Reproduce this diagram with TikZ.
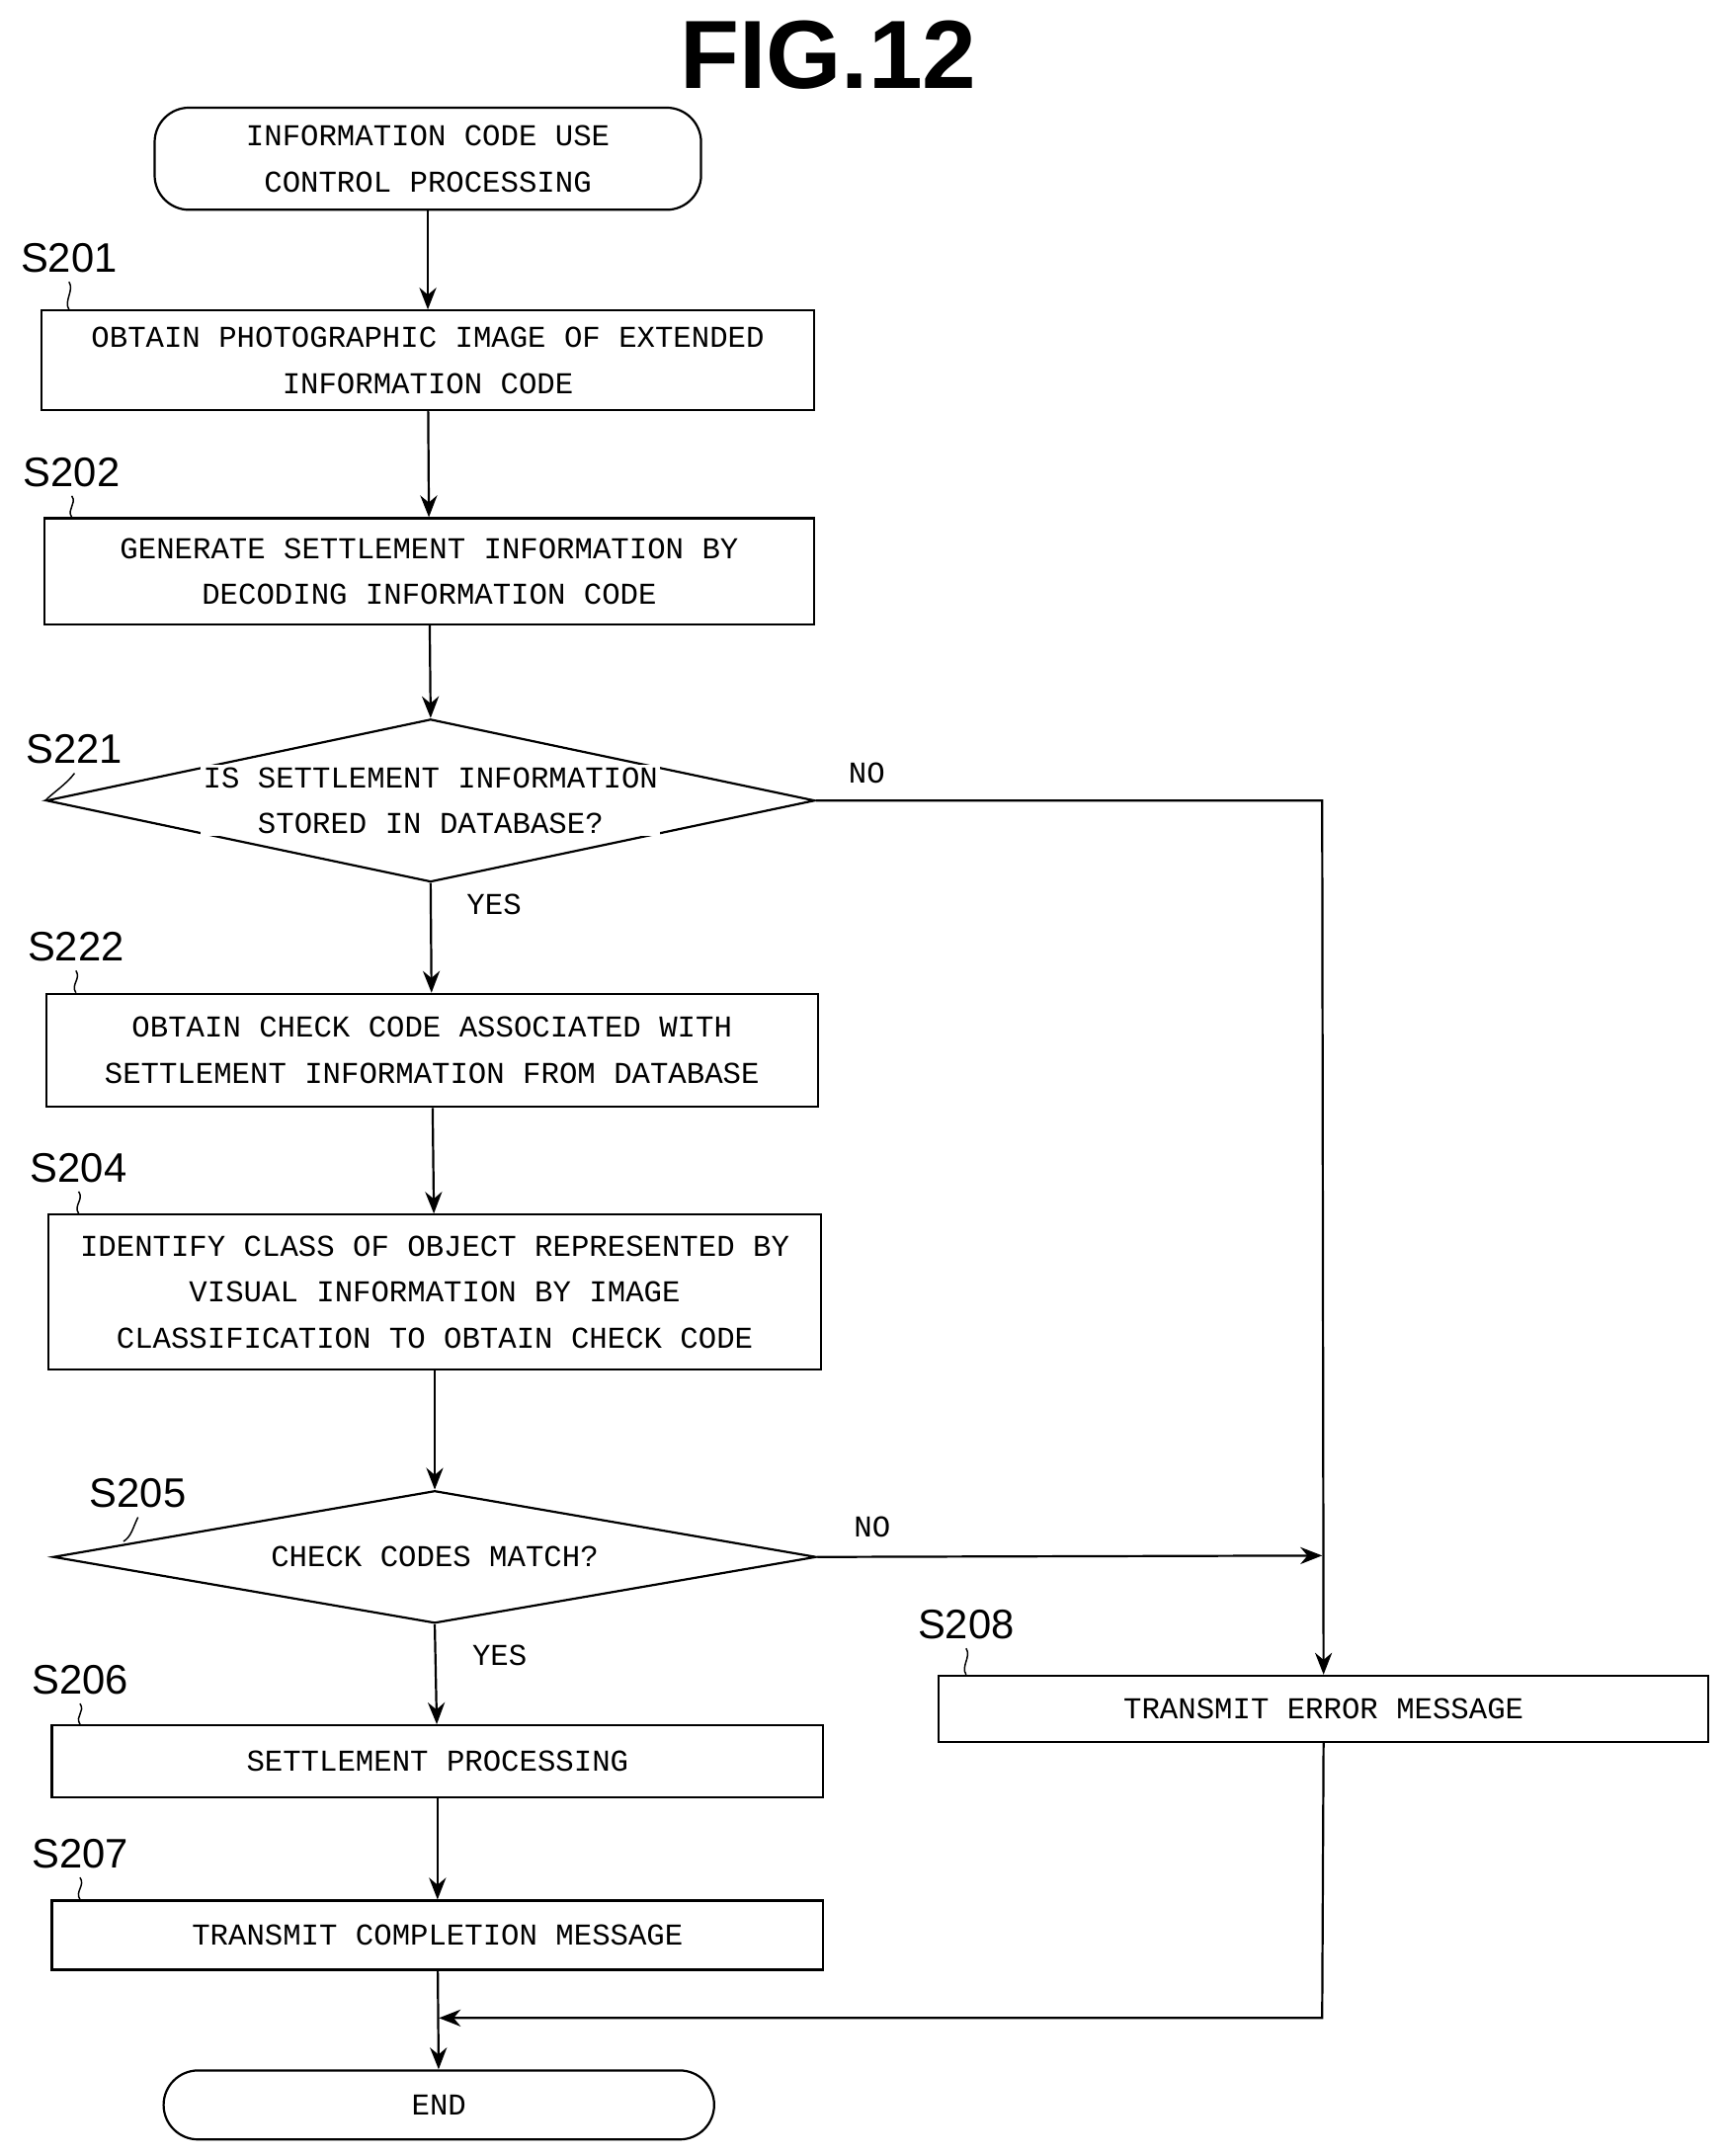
\documentclass[tikz,border=0pt]{standalone}
\usepackage{fontspec}
\setmainfont{Liberation Mono}
\setsansfont{Liberation Sans}
\usetikzlibrary{shapes.geometric,arrows.meta}
\begin{document}
\begin{tikzpicture}[x=0.02cm,y=-0.02cm,>={Stealth[length=9pt,width=7pt]},line width=0.9pt]
    \tikzstyle{proc}=[rectangle,draw,inner sep=0pt,align=center,font=\fontsize{12.5}{19}\selectfont]
    \tikzstyle{term}=[rectangle,rounded corners=0.5cm,draw,inner sep=0pt,align=center,font=\fontsize{12.5}{19}\selectfont]
    \tikzstyle{decision}=[diamond,draw,inner sep=0pt]
    \tikzstyle{question}=[fill=white,inner sep=1pt,align=center,font=\fontsize{12.5}{19}\selectfont]
    \tikzstyle{tag}=[font=\sffamily\fontsize{17}{20}\selectfont]
    \tikzstyle{annot}=[font=\fontsize{12.5}{19}\selectfont]
    \useasboundingbox (0,0) rectangle (1250,1562);

    %%% DRAW THE NODES
    \node[font=\sffamily\bfseries\fontsize{40}{44}\selectfont] (title) at (600,40) {FIG.12};
    \node[term,minimum width=7.92cm,minimum height=1.48cm] (start) at (310,115) {INFORMATION CODE USE\\CONTROL PROCESSING};
    \node[proc,minimum width=11.2cm,minimum height=1.44cm] (s201) at (310,261) {OBTAIN PHOTOGRAPHIC IMAGE OF EXTENDED\\INFORMATION CODE};
    \node[proc,minimum width=11.16cm,minimum height=1.54cm] (s202) at (311,414) {GENERATE SETTLEMENT INFORMATION BY\\DECODING INFORMATION CODE};
    \node[decision,aspect=4.72,minimum width=11.14cm,minimum height=2.36cm] (s221) at (312,580) {};
    \node[question] (q221) at (s221) {IS SETTLEMENT INFORMATION\\STORED IN DATABASE?};
    \node[proc,minimum width=11.18cm,minimum height=1.64cm] (s222) at (313,761) {OBTAIN CHECK CODE ASSOCIATED WITH\\SETTLEMENT INFORMATION FROM DATABASE};
    \node[proc,minimum width=11.2cm,minimum height=2.24cm] (s204) at (315,936) {IDENTIFY CLASS OF OBJECT REPRESENTED BY\\VISUAL INFORMATION BY IMAGE\\CLASSIFICATION TO OBTAIN CHECK CODE};
    \node[decision,aspect=5.76,minimum width=11.06cm,minimum height=1.92cm] (s205) at (315,1128) {};
    \node[question] (q205) at (s205) {CHECK CODES MATCH?};
    \node[proc,minimum width=11.18cm,minimum height=1.04cm] (s206) at (317,1276) {SETTLEMENT PROCESSING};
    \node[proc,minimum width=11.18cm,minimum height=1.0cm] (s207) at (317,1402) {TRANSMIT COMPLETION MESSAGE};
    \node[proc,minimum width=11.16cm,minimum height=0.96cm] (s208) at (959,1238) {TRANSMIT ERROR MESSAGE};
    \node[term,minimum width=7.98cm,minimum height=1.0cm] (end) at (318,1525) {END};

    %%% STEP TAGS
    \node[tag] (t201) at (50,187) {S201};
    \node[tag] (t202) at (52,342) {S202};
    \node[tag] (t221) at (54,543) {S221};
    \node[tag] (t222) at (55,686) {S222};
    \node[tag] (t204) at (57,846) {S204};
    \node[tag] (t205) at (100,1082) {S205};
    \node[tag] (t206) at (58,1217) {S206};
    \node[tag] (t207) at (58,1343) {S207};
    \node[tag] (t208) at (700,1177) {S208};
    \foreach \t/\s in {t201/s201,t202/s202,t222/s222,t204/s204,t206/s206,t207/s207,t208/s208}
        \draw[line width=0.6pt] (\t.south) .. controls +(4,6) and +(-4,-6) .. (\s.north west -| \t.south);
    \draw[line width=0.6pt] (t221.south) .. controls +(-6,8) and +(6,-6) .. (s221.west);
    \draw[line width=0.6pt] (t205.south) .. controls +(-4,8) and +(6,-4) .. ([xshift=-6pt,yshift=-10pt]t205.south);

    %%% DRAW THE PATHS
    \coordinate (c1) at (958,580);
    \coordinate (c2) at (958,1127);
    \coordinate (c3) at (958,1462);
    \coordinate (c4) at (318,1462);
    \draw[->] (start) -- (s201);
    \draw[->] (s201) -- (s202);
    \draw[->] (s202) -- (s221.north);
    \draw[->] (s221.south) -- (s222);
    \draw[->] (s222) -- (s204);
    \draw[->] (s204) -- (s205.north);
    \draw[->] (s205.south) -- (s206);
    \draw[->] (s206) -- (s207);
    \draw[->] (s207) -- (end);
    \draw[->] (s221.east) -- (c1) -- (s208.north);
    \draw[->] (s205.east) -- (c2);
    \draw[->] (s208.south) -- (c3) -- (c4);

    %%% ANOTATE
    \node[annot] (n1) at (628,560) {NO};
    \node[annot] (y1) at (358,655) {YES};
    \node[annot] (n2) at (632,1106) {NO};
    \node[annot] (y2) at (362,1199) {YES};
\end{tikzpicture}
\end{document}
